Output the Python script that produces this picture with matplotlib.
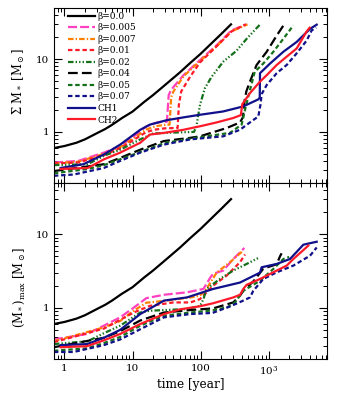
import numpy as np
import matplotlib
matplotlib.use("Agg")
import matplotlib.pyplot as plt
from matplotlib.ticker import FixedLocator, FixedFormatter, LogLocator, NullFormatter

plt.rcParams["font.family"] = ["DejaVu Serif"]
plt.rcParams["mathtext.fontset"] = "dejavuserif"
plt.rcParams["lines.scale_dashes"] = False

# ---- data (time in years, mass in Msun) ----
labels = ["β=0.0", "β=0.005", "β=0.007", "β=0.01", "β=0.02", "β=0.04", "β=0.05",
          "β=0.07", "CH1", "CH2"]

# beta = 0.0 (same in both panels)
t_b000 = [0.7, 1, 1.5, 2, 3, 4, 5, 7, 10, 15, 20, 30, 50, 70, 100, 150, 200, 280]
m_b000 = [0.6, 0.64, 0.71, 0.79, 0.96, 1.1, 1.25, 1.55, 1.9, 2.6, 3.2, 4.4, 6.6, 8.8,
          11.8, 17, 22, 30]

# top panel: total mass
top_t = {
    "b005": [0.7, 1.6, 3.8, 6.6, 10.5, 16, 22, 27, 32, 34, 37, 56, 98, 172, 285, 475],
    "b007": [0.7, 1.6, 3.8, 6.6, 10.5, 16, 22, 30, 35, 37, 40, 56, 98, 172, 285, 490],
    "b01": [0.7, 1.6, 3.8, 6.6, 10.5, 16, 22, 30, 40, 46, 48, 52, 70, 98, 172, 285, 460],
    "b02": [0.7, 2.2, 3.8, 6.6, 13, 20, 40, 80, 87, 98, 116, 145, 215, 337, 475, 750],
    "b04": [0.7, 3.8, 6.6, 13, 29, 71, 98, 241, 380, 420, 440, 470, 531, 665, 935, 1312, 1650],
    "b05": [0.7, 2.2, 3.8, 13, 29, 71, 270, 401, 449, 502, 625, 835, 1172, 1643, 2306],
    "b07": [0.7, 1.37, 3.8, 6.6, 13, 29, 71, 215, 379, 531, 705, 760, 789, 935, 1312,
            1840, 2580, 3620, 4290, 5000],
    "CH1": [0.88, 1.9, 3.8, 6.6, 13, 18, 32, 60, 98, 215, 424, 705, 740, 746, 1050,
            1643, 2580, 4055, 5080],
    "CH2": [0.88, 2.2, 3.8, 6.6, 13, 18, 29, 56, 100, 172, 300, 390, 410, 531, 746,
            935, 1312, 1840, 2580, 3620, 4000],
}
top_m = {
    "b005": [0.38, 0.40, 0.52, 0.64, 0.87, 1.19, 1.33, 1.38, 1.38, 3.2, 3.8, 6.0, 9.7,
             15.5, 24.8, 30],
    "b007": [0.37, 0.39, 0.50, 0.62, 0.82, 1.08, 1.2, 1.25, 1.26, 3.0, 3.6, 5.8, 9.4,
             15.0, 24, 30],
    "b01": [0.37, 0.38, 0.48, 0.60, 0.78, 1.0, 1.08, 1.12, 1.13, 1.13, 2.36, 3.6, 5.7,
            9.0, 15.0, 24, 30],
    "b02": [0.35, 0.36, 0.47, 0.57, 0.79, 0.95, 0.98, 1.0, 1.2, 2.36, 4.0, 5.7, 9.2,
            13, 19, 30],
    "b04": [0.29, 0.36, 0.44, 0.57, 0.75, 0.83, 0.87, 1.13, 1.35, 1.6, 2.6, 3.6, 4.9,
            8.3, 12.6, 21, 29],
    "b05": [0.27, 0.31, 0.35, 0.53, 0.70, 0.81, 0.97, 1.26, 2.0, 3.06, 6.7, 8.7, 12.6,
            19, 29],
    "b07": [0.25, 0.26, 0.32, 0.40, 0.52, 0.67, 0.79, 0.87, 1.07, 1.35, 1.63, 2.4, 3.3,
            4.4, 6.4, 8.3, 12, 18, 24.8, 27],
    "CH1": [0.32, 0.36, 0.49, 0.67, 1.07, 1.26, 1.45, 1.6, 1.72, 1.91, 2.24, 2.8, 2.95,
            6.4, 8.7, 12.6, 17.2, 26, 29.7],
    "CH2": [0.31, 0.32, 0.42, 0.52, 0.71, 0.92, 0.97, 1.07, 1.2, 1.35, 1.55, 1.7, 2.4,
            3.4, 4.9, 6.0, 8.3, 10.8, 14, 24, 27],
}

# bottom panel: maximum stellar mass
bot_t = {
    "b005": [0.7, 2.15, 3.8, 6.6, 10.4, 16, 29, 63, 110, 140, 153, 215, 302, 440],
    "b007": [0.7, 3.8, 6.6, 10.4, 16, 32, 71, 98, 122, 172, 270, 424],
    "b01": [0.7, 3.8, 10.4, 18, 40, 71, 98, 153, 241, 379, 449],
    "b02": [0.7, 2.2, 3.8, 6.6, 13, 18, 63, 98, 110, 122, 192, 302, 475, 720],
    "b04": [0.7, 3.8, 6.6, 13, 29, 71, 153, 302, 379, 424, 600, 835, 1312, 1468, 1550],
    "b05": [0.7, 2.15, 3.8, 6.6, 13, 29, 71, 150, 250, 320, 424, 746, 1172, 1643, 2000],
    "b07": [0.7, 1.37, 3.8, 6.6, 13, 29, 71, 150, 270, 424, 531, 595, 835, 1312, 2306,
            4055, 5080],
    "CH1": [0.88, 2.15, 3.8, 6.6, 13, 29, 63, 153, 379, 746, 789, 1312, 2060, 3235, 5080],
    "CH2": [0.88, 2.15, 3.8, 6.6, 13, 29, 50, 100, 153, 302, 380, 424, 475, 746, 935,
            1312, 1840, 2306, 3830],
}
bot_m = {
    "b005": [0.37, 0.44, 0.57, 0.74, 1.0, 1.35, 1.5, 1.62, 1.8, 2.6, 2.9, 3.2, 4.6, 6.5],
    "b007": [0.35, 0.54, 0.66, 0.91, 1.17, 1.25, 1.38, 1.46, 1.8, 3.0, 4.15, 6.0],
    "b01": [0.34, 0.52, 0.86, 1.06, 1.18, 1.18, 1.31, 2.0, 2.73, 4.15, 5.3],
    "b02": [0.32, 0.35, 0.45, 0.57, 0.86, 0.91, 0.96, 1.06, 1.3, 1.8, 2.46, 3.2, 3.94, 4.8],
    "b04": [0.29, 0.39, 0.48, 0.67, 0.86, 0.93, 0.98, 1.18, 1.46, 1.7, 2.3, 3.4, 3.9,
            5.0, 5.5],
    "b05": [0.26, 0.28, 0.33, 0.40, 0.57, 0.78, 0.86, 0.92, 1.02, 1.18, 1.7, 2.33, 3.37,
            4.6, 4.9],
    "b07": [0.25, 0.25, 0.31, 0.37, 0.51, 0.74, 0.82, 0.85, 1.04, 1.25, 1.38, 1.7, 2.46,
            3.03, 3.74, 5.1, 6.6],
    "CH1": [0.31, 0.32, 0.39, 0.5, 0.82, 1.25, 1.38, 1.8, 2.2, 3.0, 3.55, 3.94, 4.6,
            7.2, 7.9],
    "CH2": [0.29, 0.30, 0.36, 0.44, 0.6, 0.82, 0.95, 1.05, 1.15, 1.38, 1.5, 1.8, 2.05,
            2.46, 2.73, 3.2, 3.74, 4.6, 7.0],
}

keys = ["b005", "b007", "b01", "b02", "b04", "b05", "b07", "CH1", "CH2"]
colors = {"b005": "#ff40c0", "b007": "#ff8000", "b01": "#ff1a2a", "b02": "#15701a",
          "b04": "black", "b05": "#15701a", "b07": "#10108a", "CH1": "#10108a",
          "CH2": "#ff1a2a"}
dashes = {"b005": (6.5, 2.2), "b007": (4, 1.5, 1, 1.5), "b01": (3.2, 2),
          "b02": (4, 1.5, 1, 1.5, 1, 1.5, 1, 1.5), "b04": (7, 3), "b05": (3.2, 2),
          "b07": (3.2, 2), "CH1": None, "CH2": None}

fig = plt.figure(figsize=(3.41, 4.09), dpi=100)
ax1 = fig.add_axes([0.158, 0.553, 0.801, 0.427])
ax2 = fig.add_axes([0.158, 0.122, 0.801, 0.431])


def draw(ax, tt, mm):
    ax.plot(t_b000, m_b000, color="black", lw=1.6, label=labels[0])
    for k, lab in zip(keys, labels[1:]):
        line, = ax.plot(tt[k], mm[k], color=colors[k], lw=1.6, label=lab)
        if dashes[k] is not None:
            line.set_dashes(dashes[k])
    ax.set_xscale("log")
    ax.set_yscale("log")
    ax.set_xlim(0.7, 7200)
    ax.set_ylim(0.2, 50)
    ax.xaxis.set_major_locator(FixedLocator([1, 10, 100, 1000]))
    ax.xaxis.set_minor_locator(LogLocator(base=10, subs=np.arange(2, 10), numticks=20))
    ax.yaxis.set_major_locator(FixedLocator([1, 10]))
    ax.yaxis.set_minor_locator(LogLocator(base=10, subs=np.arange(2, 10), numticks=20))
    ax.yaxis.set_major_formatter(FixedFormatter(["1", "10"]))
    ax.yaxis.set_minor_formatter(NullFormatter())
    ax.xaxis.set_minor_formatter(NullFormatter())
    ax.tick_params(which="both", direction="in", top=True, right=True, labelsize=7.5)
    ax.tick_params(which="major", length=6, width=0.8)
    ax.tick_params(which="minor", length=3, width=0.7)


draw(ax1, top_t, top_m)
draw(ax2, bot_t, bot_m)

ax1.set_xticklabels([])
ax2.xaxis.set_major_formatter(FixedFormatter(["1", "10", "100", r"$10^3$"]))
ax2.set_xlabel("time [year]", fontsize=8.7, labelpad=1)
ax1.set_ylabel(r"$\Sigma$ M$_*$ [M$_\odot$]", fontsize=8.3)
ax2.set_ylabel(r"(M$_*$)$_{\rm max}$ [M$_\odot$]", fontsize=8.3)
ax1.yaxis.set_label_coords(-0.1, 0.58)
ax2.yaxis.set_label_coords(-0.1, 0.41)

ax1.legend(loc="upper left", bbox_to_anchor=(0.04, 1.0), frameon=False,
           fontsize=6.5, handlelength=3.0, handletextpad=0.2, labelspacing=0.28,
           borderaxespad=0.2, borderpad=0.2)

fig.savefig("out.png", dpi=100)
plt.close(fig)
